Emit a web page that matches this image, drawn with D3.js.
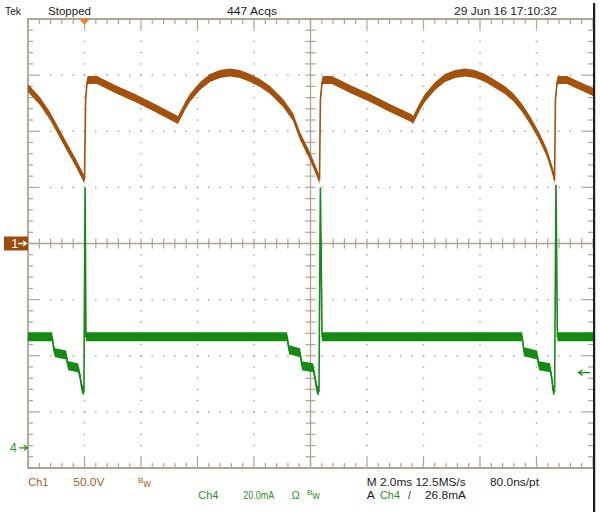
<!DOCTYPE html>
<html><head><meta charset="utf-8">
<script src="https://cdn.jsdelivr.net/npm/d3@7"></script>
<style>body{margin:0;background:#fff}svg{display:block}text{font-family:"Liberation Sans",Arial,sans-serif}</style>
</head><body><svg id="c" width="600" height="515"></svg>
<script>
// ---- data ----
const timeDomain = [0, 20];          // ms across screen (10 div x 2.0 ms)
const divDomain = [-4, 4];           // vertical divisions
const ch1VoltsPerDiv = 50;
const ch4mAPerDiv = 20;
const ch1OffsetDiv = 0;
const ch4OffsetDiv = -3.64;
const triggerTime = 2.0;             // ms
const triggerLevel = 26.8;           // mA
// Ch1 [time ms, volts]
const ch1 = [[0.00,138.5],[0.42,127.0],[0.78,113.6],[1.13,97.6],[1.38,86.0],[1.66,73.5],[1.95,59.2],[2.00,56.6],
 [2.04,127.8],[2.09,143.9],[2.12,145.7],[2.44,145.7],[3.08,137.6],[3.79,129.6],[4.50,120.7],[5.24,110.9],[5.31,110.0],
 [5.56,122.5],[5.73,129.6],[6.09,140.3],[6.44,147.4],[6.80,151.0],[7.15,152.3],[7.50,151.0],[7.86,147.4],[8.21,143.0],
 [8.57,136.7],[9.03,125.2],[9.38,112.7],[9.63,95.8],[9.98,77.9],[10.27,60.1],[10.32,56.6],
 [10.35,127.8],[10.41,143.9],[10.44,145.7],[10.76,145.7],[11.40,137.6],[12.11,129.6],[12.81,120.7],[13.56,111.8],[13.63,110.0],
 [13.88,122.5],[14.05,129.6],[14.41,140.3],[14.76,147.4],[15.12,151.0],[15.47,152.3],[15.82,151.0],[16.18,147.4],[16.53,142.1],
 [16.88,136.7],[17.17,130.5],[17.49,120.7],[17.77,110.0],[18.09,95.8],[18.37,80.6],[18.58,63.7],[18.64,56.6],
 [18.67,127.8],[18.73,143.9],[18.76,145.7],[19.08,145.7],[19.54,140.3],[20.00,135.0]];
// Ch4 [time ms, mA]
const ch4 = [[0.00,39.6],[0.85,39.6],[0.92,34.9],[0.96,33.9],[1.35,33.1],[1.42,29.2],[1.77,28.5],[1.84,25.7],[1.91,21.0],[1.98,20.3],
 [2.02,92.7],[2.05,39.6],[9.17,39.6],[9.24,34.9],[9.63,33.9],[9.70,29.2],[10.09,28.5],[10.16,24.9],[10.23,20.7],[10.30,20.3],
 [10.35,92.7],[10.41,39.6],[17.49,39.6],[17.56,34.2],[18.02,33.1],[18.09,29.2],[18.48,28.5],[18.55,24.2],[18.58,20.7],[18.64,20.3],
 [18.69,93.7],[18.74,39.6],[20.00,39.6]];
const headerTexts = ["Tek","Stopped","447 Acqs","29 Jun 16 17:10:32"];

// ---- drawing ----
const svg = d3.select("#c");
const L = 28, R = 593, T = 19, B = 468;
const x = d3.scaleLinear().domain(timeDomain).range([L, R]);
const yd = d3.scaleLinear().domain(divDomain).range([B, T]);
const y1 = v => yd(v / ch1VoltsPerDiv + ch1OffsetDiv);
const y4 = v => yd(v / ch4mAPerDiv + ch4OffsetDiv);
const BROWN = "#a2520c", GREEN = "#158a15", GRID = "#aea48f", DOT = "#a8a8a8";
const TXT_BROWN = "#a65c1e", TXT_GREEN = "#2b8f2b";

const g = svg.append("g");
// dotted major gridlines
const xMajor = d3.range(1, 10).filter(i => i !== 5).map(i => i * 2);
const yMajor = d3.range(-3, 4).filter(i => i !== 0);
const xMinor = d3.range(0, 51).map(i => i * 0.4);
const yMinor = d3.range(0, 41).map(i => -4 + i * 0.2);
xMajor.forEach(t => yMinor.forEach(d => g.append("rect").attr("x", x(t) - 0.75).attr("y", yd(d) - 0.75).attr("width", 1.5).attr("height", 1.5).attr("fill", DOT)));
yMajor.forEach(d => xMinor.forEach(t => g.append("rect").attr("x", x(t) - 0.75).attr("y", yd(d) - 0.75).attr("width", 1.5).attr("height", 1.5).attr("fill", DOT)));
// center cross
g.append("line").attr("x1", L).attr("x2", R).attr("y1", yd(0)).attr("y2", yd(0)).attr("stroke", GRID).attr("stroke-width", 1.3);
g.append("line").attr("x1", x(10)).attr("x2", x(10)).attr("y1", T).attr("y2", B).attr("stroke", GRID).attr("stroke-width", 1.3);
xMinor.forEach(t => g.append("line").attr("x1", x(t)).attr("x2", x(t)).attr("y1", yd(0) - 5).attr("y2", yd(0) + 5).attr("stroke", GRID).attr("stroke-width", 1.2));
yMinor.forEach(d => g.append("line").attr("x1", x(10) - 5).attr("x2", x(10) + 5).attr("y1", yd(d)).attr("y2", yd(d)).attr("stroke", GRID).attr("stroke-width", 1.2));
// border ticks
xMinor.forEach((t, i) => {
  const len = i % 5 === 0 ? 10 : 5;
  g.append("line").attr("x1", x(t)).attr("x2", x(t)).attr("y1", T).attr("y2", T + len).attr("stroke", GRID).attr("stroke-width", 1.2);
  g.append("line").attr("x1", x(t)).attr("x2", x(t)).attr("y1", B).attr("y2", B - len).attr("stroke", GRID).attr("stroke-width", 1.2);
});
yMinor.forEach((d, i) => {
  const len = i % 5 === 0 ? 10 : 5;
  g.append("line").attr("x1", L).attr("x2", L + len).attr("y1", yd(d)).attr("y2", yd(d)).attr("stroke", GRID).attr("stroke-width", 1.2);
  g.append("line").attr("x1", R).attr("x2", R - len).attr("y1", yd(d)).attr("y2", yd(d)).attr("stroke", GRID).attr("stroke-width", 1.2);
});
// border
g.append("path").attr("d", `M${R},${T}H${L}V${B}H${R}`).attr("fill", "none").attr("stroke", GRID).attr("stroke-width", 1.8);
// right black edge
svg.append("rect").attr("x", 593).attr("y", 3).attr("width", 2.2).attr("height", 509).attr("fill", "#1e1e1e");

// traces: noisy band as area + thin center line
function trace(data, yf, half, color) {
  const area = d3.area().x(d => x(d[0])).y0(d => yf(d[1]) - half).y1(d => yf(d[1]) + half);
  const line = d3.line().x(d => x(d[0])).y(d => yf(d[1]));
  svg.append("path").datum(data).attr("d", area).attr("fill", color);
  svg.append("path").datum(data).attr("d", line).attr("fill", "none").attr("stroke", color).attr("stroke-width", 1.6);
}
trace(ch4, y4, 4.5, GREEN);
trace(ch1, y1, 4, BROWN);

// trigger position marker
const tx = x(triggerTime);
svg.append("path").attr("d", `M${tx - 5.5},${T - 0.5}L${tx + 5.5},${T - 0.5}L${tx},${T + 6}Z`).attr("fill", "#f07a2c");
// Ch1 ground marker
const g1 = yd(ch1OffsetDiv);
svg.append("rect").attr("x", 4).attr("y", g1 - 7).attr("width", 24).attr("height", 14).attr("fill", "#9c4d0e");
svg.append("text").attr("x", 11.5).attr("y", g1 + 4.5).attr("fill", "#fff").attr("font-size", 12).text("1");
svg.append("path").attr("d", `M18,${g1}H26M23,${g1 - 2.5}L26.5,${g1}L23,${g1 + 2.5}`).attr("stroke", "#fff").attr("stroke-width", 1.3).attr("fill", "none");
// Ch4 ground marker
const g4 = yd(ch4OffsetDiv);
svg.append("text").attr("x", 10).attr("y", g4 + 4.5).attr("fill", TXT_GREEN).attr("font-size", 12).text("4");
svg.append("path").attr("d", `M19,${g4}H27M24,${g4 - 2.5}L27.5,${g4}L24,${g4 + 2.5}`).attr("stroke", TXT_GREEN).attr("stroke-width", 1.3).attr("fill", "none");
// trigger level arrow
const tl = y4(triggerLevel);
svg.append("path").attr("d", `M590,${tl}H579M582.5,${tl - 2.8}L578.5,${tl}L582.5,${tl + 2.8}`).attr("stroke", GREEN).attr("stroke-width", 1.3).attr("fill", "none");

// texts
function txt(s, xx, yy, color, len, size) {
  const t = svg.append("text").attr("x", xx).attr("y", yy).attr("fill", color).attr("font-size", size || 11.5).text(s);
  if (len) t.attr("textLength", len).attr("lengthAdjust", "spacingAndGlyphs");
  return t;
}
const BLK = "#1c1c1c";
txt(headerTexts[0], 5, 15, BLK, 16);
txt(headerTexts[1], 48, 15, BLK, 43);
txt(headerTexts[2], 227, 15, BLK, 50);
txt(headerTexts[3], 454, 15, BLK, 103);
// footer row 1
txt("Ch1", 28.3, 486, TXT_BROWN, 20);
txt("50.0V", 73.3, 486, TXT_BROWN, 31);
txt("B", 138, 482.5, TXT_BROWN, null, 8);
txt("w", 143.5, 486.5, TXT_BROWN, null, 10);
txt("M 2.0ms 12.5MS/s", 366.7, 486, BLK, 99);
txt("80.0ns/pt", 490, 486, BLK, 49);
// footer row 2
txt("Ch4", 198.3, 498.5, TXT_GREEN, 20);
txt("20.0mA", 243.3, 498.5, TXT_GREEN, 31);
txt("Ω", 291.5, 498.5, TXT_GREEN, null, 11);
txt("B", 307, 495, TXT_GREEN, null, 8);
txt("w", 312.5, 499, TXT_GREEN, null, 10);
txt("A", 366.7, 498.5, BLK, 8);
txt("Ch4", 380, 498.5, TXT_GREEN, 20);
txt("/", 408, 498.5, BLK, null, 10);
txt("26.8mA", 425, 498.5, BLK, 41);
</script></body></html>
